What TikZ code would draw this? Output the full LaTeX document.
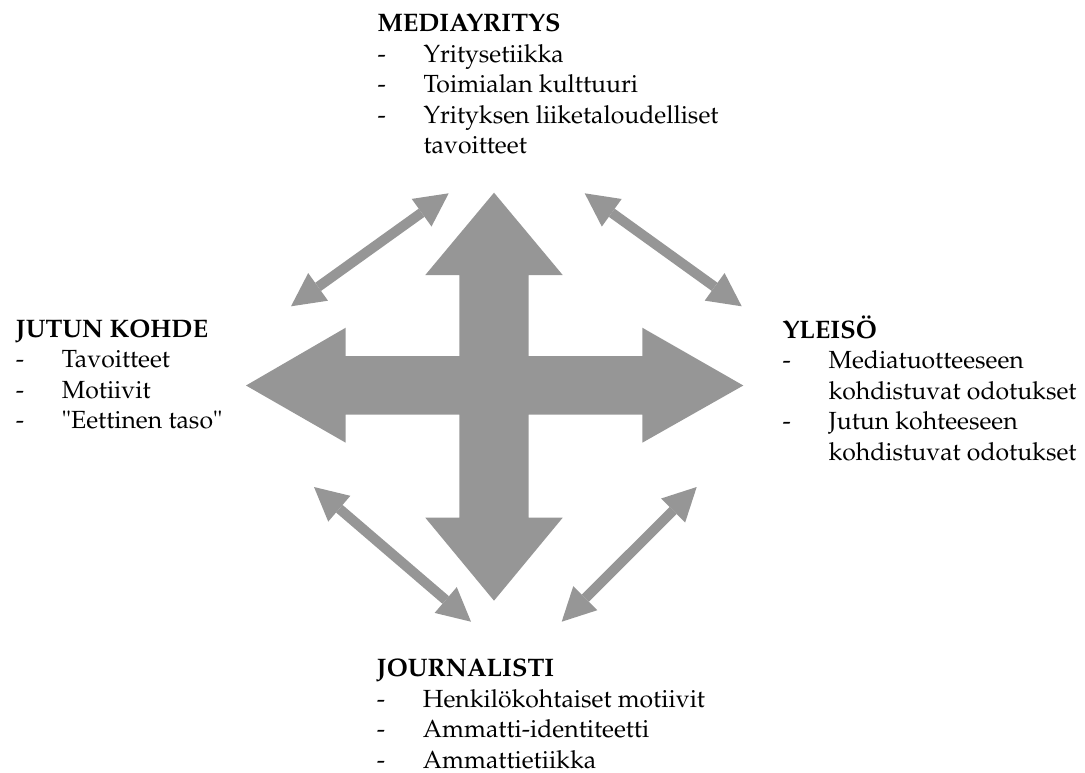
\documentclass[tikz,border=0pt]{standalone}
\usepackage[T1]{fontenc}
\usepackage{mathpazo}
\usetikzlibrary{arrows.meta}
\definecolor{arrgray}{RGB}{150,150,150}
\newcommand{\itm}[1]{\makebox[34.5pt][l]{-}&#1\\}
\newcommand{\cont}[1]{&#1\\}
\newcommand{\hd}[1]{\multicolumn{2}{@{}l@{}}{\fontsize{19}{22.9}\selectfont\textbf{#1}}\\}
\tikzset{
  block/.style={anchor=base west, inner sep=0pt, align=left,
    font=\fontsize{18.6}{22.9}\selectfont},
  smallarrow/.style={arrgray, line width=7.5pt,
    {Triangle[length=25pt,width=25.5pt,line width=0pt]}-{Triangle[length=25pt,width=25.5pt,line width=0pt]}},
  cross/.style={fill=arrgray, draw=none}
}
\begin{document}
\begin{tikzpicture}[x=0.75pt,y=-0.75pt]
\useasboundingbox (0,0) rectangle (1085,772);
% central cross
\path[cross] (494,192.7) -- (562.7,275) -- (528.7,275) -- (528.7,356) -- (642.3,356)
  -- (642.3,327.7) -- (743.3,385.5) -- (642.3,442.7) -- (642.3,414.7) -- (528.7,414.7)
  -- (528.7,517.7) -- (562.7,517.7) -- (494,600.7) -- (425.3,517.7) -- (459.3,517.7)
  -- (459.3,414.7) -- (345.7,414.7) -- (345.7,442.7) -- (246,385.5) -- (345.7,327.7)
  -- (345.7,356) -- (459.3,356) -- (459.3,275) -- (425.3,275) -- cycle;
% text blocks
\node[block] (media) at (377.3,31.7) {\begin{tabular}[t]{@{}l@{}l@{}}
\hd{MEDIAYRITYS}
\itm{Yritysetiikka}
\itm{Toimialan kulttuuri}
\itm{Yrityksen liiketaloudelliset}
\cont{tavoitteet}
\end{tabular}};
\node[block] (kohde) at (15.7,337.3) {\begin{tabular}[t]{@{}l@{}l@{}}
\hd{JUTUN KOHDE}
\itm{Tavoitteet}
\itm{Motiivit}
\itm{"Eettinen taso"}
\end{tabular}};
\node[block] (yleiso) at (782.3,338) {\begin{tabular}[t]{@{}l@{}l@{}}
\hd{YLEIS\"O}
\itm{Mediatuotteeseen}
\cont{kohdistuvat odotukset}
\itm{Jutun kohteeseen}
\cont{kohdistuvat odotukset}
\end{tabular}};
\node[block] (journ) at (376.7,676.7) {\begin{tabular}[t]{@{}l@{}l@{}}
\hd{JOURNALISTI}
\itm{Henkil\"okohtaiset motiivit}
\itm{Ammatti-identiteetti}
\itm{Ammattietiikka}
\end{tabular}};
% small arrow ends
\coordinate (ulA) at (291,306.3);
\coordinate (ulB) at (448.7,193.3);
\coordinate (urA) at (584.7,193.3);
\coordinate (urB) at (741.7,306.3);
\coordinate (llA) at (314,487);
\coordinate (llB) at (471,621.7);
\coordinate (lrA) at (696.7,487);
\coordinate (lrB) at (561.7,621.7);
\draw[smallarrow] (ulA) -- (ulB);
\draw[smallarrow] (urA) -- (urB);
\draw[smallarrow] (llA) -- (llB);
\draw[smallarrow] (lrA) -- (lrB);
\end{tikzpicture}
\end{document}
